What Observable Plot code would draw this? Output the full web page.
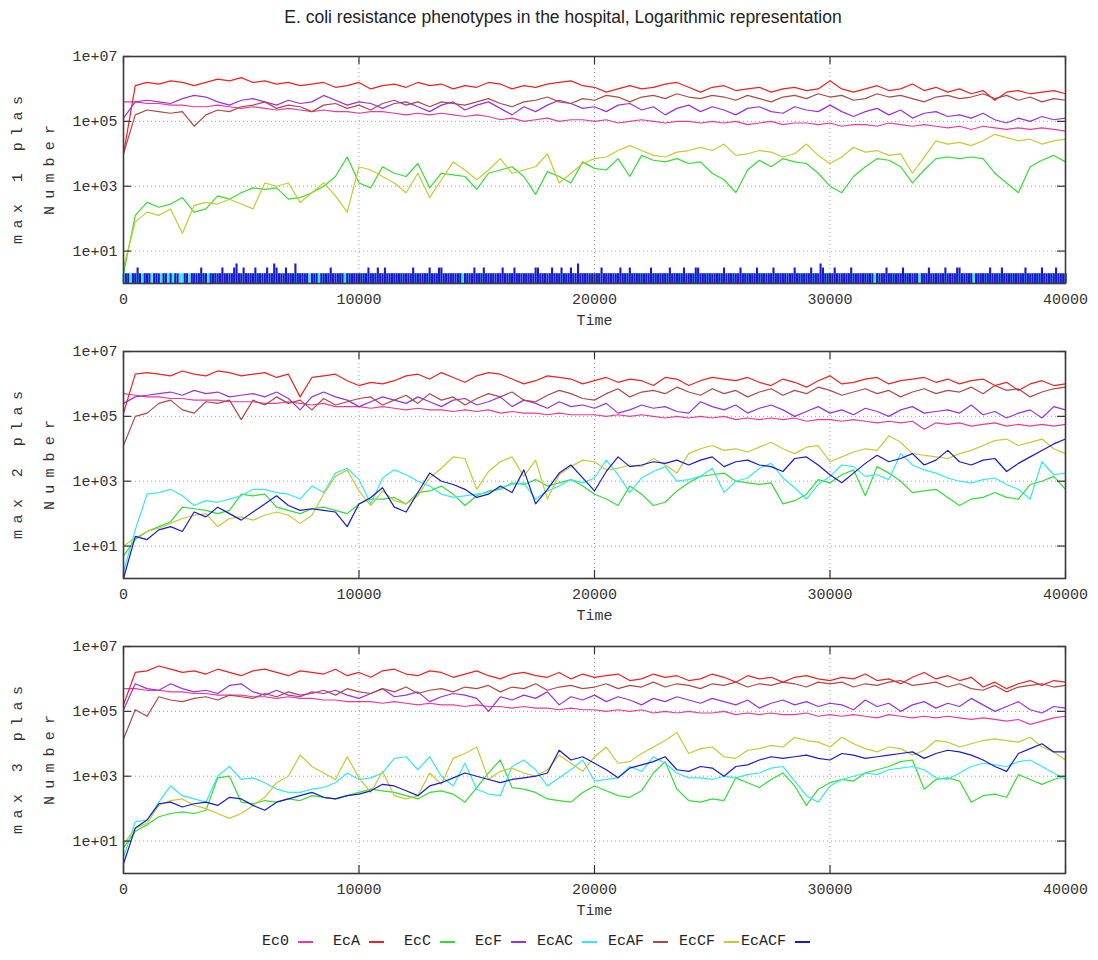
<!DOCTYPE html>
<html><head><meta charset="utf-8">
<script src="https://cdn.jsdelivr.net/npm/d3@7"></script>
<script src="https://cdn.jsdelivr.net/npm/@observablehq/plot@0.6"></script>
<style>
body{margin:0;background:#fff;width:1098px;height:960px;position:relative;overflow:hidden}
#title{position:absolute;top:7px;left:0;width:1126px;text-align:center;font:17.5px "Liberation Sans",Arial,sans-serif;color:#222}
#panels{position:absolute;top:40px;left:0}
#panels svg{display:block}
#legend{position:absolute;top:933px;left:242px;display:flex;font:15px "Liberation Mono",monospace;color:#222;line-height:18px}
.item{width:71px;display:flex;align-items:center}
.item span{display:inline-block;width:47px;text-align:right;margin-right:9px}
.item i{display:inline-block;width:15px;height:2px}
</style></head><body>
<div id="title">E. coli resistance phenotypes in the hospital, Logarithmic representation</div>
<div id="panels"></div>
<div id="legend"></div>
<script>
// ---- categories / labels ----
const seriesNames = ["Ec0","EcA","EcC","EcF","EcAC","EcAF","EcCF","EcACF"];
const seriesColors = ["#f0379b","#f02020","#33dd33","#9b30e0","#33e8f0","#b04848","#c8c832","#1a1acc"];
const panelLabels = ["max 1 plas","max 2 plas","max 3 plas"];
const xTickValues = [0,10000,20000,30000,40000];
const yTickValues = [10,1e3,1e5,1e7];
const yGridValues = [10,1e3,1e5];
const xGridValues = [10000,20000,30000];
const timeStep = 500;   // sampling interval (Time) of the log10(Number) arrays below
const spikeStep = 100;  // sampling interval of the panel-1 count arrays

// ---- panel 1 : max 1 plas (log10 of Number) ----
const p1_Ec0 = [5.6,5.6,5.55,5.55,5.5,5.5,5.45,5.45,5.5,5.45,
5.4,5.45,5.4,5.35,5.4,5.35,5.3,5.35,5.3,5.3,
5.25,5.3,5.3,5.25,5.2,5.25,5.2,5.25,5.2,5.15,
5.2,5.15,5.05,5.1,5.0,5.05,5.1,5.0,5.05,5.05,
5.0,5.05,4.95,5.0,5.05,5.0,4.95,5.0,5.0,4.95,
5.0,4.95,5.0,4.9,4.95,5.0,4.9,4.95,4.95,4.9,
4.95,4.85,4.9,4.9,4.85,4.95,4.9,4.85,4.9,4.85,
4.8,4.85,4.75,4.85,4.8,4.75,4.8,4.75,4.8,4.75,4.7];
const p1_EcA = [4.0,6.1,6.2,6.15,6.25,6.2,6.1,6.2,6.3,6.25,
6.35,6.2,6.25,6.15,6.2,6.1,6.15,6.2,6.05,6.1,
6.2,6.0,6.1,6.15,6.05,6.2,6.1,6.15,6.0,6.1,
6.05,6.2,6.15,6.0,6.1,6.05,6.15,6.2,6.25,6.1,
6.05,5.9,6.0,6.1,6.0,6.05,6.15,6.2,6.05,5.9,
6.05,6.1,5.95,6.0,6.05,5.9,6.0,6.05,5.95,6.0,
6.25,6.0,5.9,6.0,6.1,5.95,6.0,6.15,5.95,6.05,
5.9,6.0,5.85,5.95,5.65,5.9,5.95,5.85,5.9,5.95,5.85];
const p1_EcC = [0.3,2.1,2.5,2.35,2.45,2.65,2.2,2.3,2.7,2.6,
2.8,2.95,2.9,2.95,2.6,2.65,2.8,3.0,3.3,3.9,
3.1,2.95,3.6,3.4,3.3,3.7,2.95,3.4,3.35,3.3,
2.9,3.4,3.5,3.6,3.3,2.75,3.45,3.3,3.1,3.75,
3.55,3.5,3.85,3.3,3.95,3.8,3.75,3.85,3.7,3.75,
3.4,3.2,2.8,3.5,3.8,3.6,3.85,3.75,3.7,3.4,
3.0,2.8,3.3,3.6,3.85,3.8,3.6,3.1,3.5,3.85,
3.9,3.85,3.9,3.85,3.4,3.1,2.8,3.6,3.8,3.95,3.75];
const p1_EcF = [5.1,5.6,5.65,5.6,5.55,5.7,5.8,5.75,5.6,5.5,
5.65,5.7,5.6,5.5,5.65,5.55,5.6,5.8,5.65,5.5,
5.6,5.55,5.4,5.55,5.6,5.45,5.3,5.5,5.6,5.35,
5.5,5.6,5.4,5.2,5.45,5.3,5.5,5.65,5.55,5.4,
5.45,5.3,5.5,5.55,5.35,5.45,5.2,5.4,5.5,5.3,
5.45,5.35,5.2,5.4,5.45,5.3,5.25,5.45,5.35,5.3,
5.5,5.3,5.15,5.3,5.4,5.2,5.35,5.1,5.25,5.3,
5.15,5.2,5.1,5.25,5.05,4.95,5.1,5.0,5.15,5.05,5.1];
const p1_EcAF = [4.0,5.2,5.35,5.3,5.25,5.3,4.85,5.2,5.35,5.3,
5.45,5.5,5.6,5.4,5.5,5.45,5.3,5.5,5.55,5.4,
5.5,5.35,5.55,5.65,5.5,5.6,5.45,5.6,5.55,5.5,
5.6,5.7,5.55,5.45,5.6,5.65,5.75,5.6,5.55,5.7,
5.65,5.8,5.75,5.6,5.75,5.8,5.7,5.85,5.75,5.7,
5.8,5.75,5.65,5.8,5.7,5.6,5.75,5.8,5.7,5.85,
5.75,5.8,5.65,5.7,5.85,5.75,5.8,5.7,5.6,5.75,
5.8,5.7,5.75,5.85,5.7,5.8,5.65,5.75,5.6,5.7,5.65];
const p1_EcCF = [0.5,1.9,2.2,2.1,2.3,1.55,2.4,2.5,2.45,2.6,
2.45,2.3,3.1,3.0,3.1,2.5,2.8,3.1,2.7,2.2,
3.6,3.5,3.3,3.1,2.8,3.4,2.65,3.2,3.75,3.5,
3.2,3.5,3.85,3.4,3.5,3.6,4.0,3.1,3.4,3.7,
3.85,3.9,4.1,4.25,4.1,3.95,3.9,4.05,4.1,4.2,
4.1,4.3,3.95,4.0,4.1,4.05,3.9,4.0,4.3,3.95,
3.7,3.9,4.2,4.05,4.1,3.95,4.0,3.4,3.9,4.4,
4.3,4.35,4.25,4.4,4.6,4.5,4.4,4.45,4.3,4.4,4.45];
// EcAC and EcACF in panel 1: counts (1..4) every spikeStep
const p1_EcAC_counts = [
2,2,1,2,2,2,2,1,2,2,1,2,2,2,2,1,2,2,1,2,
2,2,2,1,2,2,2,1,2,2,2,1,2,2,2,2,2,2,1,2,
1,2,2,2,2,1,2,2,2,2,1,2,2,2,2,1,2,2,2,1,
2,2,1,2,2,2,2,1,2,2,2,2,1,2,2,2,2,1,2,2,
2,1,2,2,2,2,1,2,2,2,1,2,2,2,2,2,2,1,2,2,
1,2,2,2,2,2,2,2,1,2,2,2,1,2,2,2,2,2,2,1,
2,2,1,2,2,2,1,2,2,2,2,1,2,2,2,2,1,2,2,2,
2,1,2,2,2,2,2,1,2,2,2,2,2,1,2,2,2,2,1,2,
2,2,2,1,2,2,2,2,2,1,2,2,2,2,1,2,2,2,2,2,
1,2,2,2,2,1,2,2,2,2,2,2,1,2,2,2,2,2,1,2,
2,2,2,1,2,2,2,2,1,2,2,2,2,2,2,1,2,2,2,2,
2,1,2,2,2,2,2,1,2,2,2,2,1,2,2,2,2,2,2,1,
2,2,2,2,1,2,2,2,2,2,1,2,2,2,2,2,1,2,2,2,
1,2,2,2,2,2,1,2,2,2,2,2,2,1,2,2,2,2,2,2,
2,2,1,2,2,2,2,2,2,1,2,2,2,2,2,1,2,2,2,2,
2,2,2,2,1,2,2,2,2,2,2,1,2,2,2,2,2,2,1,2,
2,1,2,2,2,2,2,2,1,2,2,2,2,2,2,1,2,2,2,2,
2,2,2,1,2,2,2,2,2,2,1,2,2,2,2,2,2,1,2,2,
2,2,1,2,2,2,2,2,2,2,1,2,2,2,2,2,1,2,2,2,
2,2,2,2,2,1,2,2,2,2,2,2,1,2,2,2,2,2,2,1,
2];
const p1_EcACF_counts = [
1,2,2,1,2,2,3,2,1,2,2,2,1,2,2,2,1,2,2,1,
2,1,2,2,1,1,2,2,1,2,2,2,2,3,2,2,1,2,2,2,
2,2,3,2,2,2,2,3,4,2,2,3,2,2,2,2,3,2,2,2,
2,3,2,2,4,3,2,2,2,3,2,2,2,4,2,2,2,2,2,1,
2,2,2,1,2,2,2,2,3,2,2,2,2,2,1,2,2,2,2,2,
2,2,2,2,3,2,2,2,3,2,2,3,2,2,2,2,2,2,2,2,
2,2,2,3,2,2,2,2,2,2,3,2,2,2,3,3,2,2,2,2,
2,2,2,2,1,2,2,2,2,3,2,2,2,3,2,2,2,2,2,2,
2,3,2,2,2,2,3,2,2,2,2,2,2,2,2,3,3,2,2,2,
2,2,3,2,2,2,3,2,2,2,3,2,2,4,2,2,2,2,2,2,
2,2,2,3,2,2,2,2,2,2,2,3,2,2,2,3,2,2,2,2,
2,2,2,2,3,2,2,2,2,2,2,2,3,2,2,2,2,2,3,2,
2,2,2,3,3,2,2,2,2,2,2,2,2,2,2,3,2,2,2,2,
2,2,3,2,2,2,2,2,2,3,2,2,2,2,2,2,3,2,2,2,
2,2,2,2,2,3,2,2,2,2,2,2,3,2,2,2,4,3,2,2,
2,2,3,2,2,2,2,2,2,3,2,2,2,2,2,2,2,2,2,1,
2,2,2,2,3,2,2,2,2,2,2,3,2,2,2,2,2,2,1,2,
2,2,3,2,2,2,2,2,2,3,2,2,2,2,3,3,2,2,2,2,
2,1,2,2,2,2,2,2,3,2,2,2,2,3,2,2,2,2,2,2,
2,2,2,3,2,2,2,2,2,2,3,2,2,2,2,2,3,2,2,2,
2];

// ---- panel 2 : max 2 plas ----
const p2_Ec0 = [5.7,5.65,5.6,5.6,5.55,5.55,5.5,5.5,5.5,5.45,
5.45,5.45,5.4,5.4,5.45,5.4,5.35,5.4,5.3,5.3,
5.3,5.25,5.3,5.25,5.2,5.25,5.2,5.2,5.15,5.2,
5.15,5.2,5.1,5.15,5.1,5.1,5.05,5.1,5.05,5.05,
5.05,5.0,5.05,5.0,5.05,5.0,4.95,5.0,4.95,5.0,
4.95,5.0,4.9,4.95,4.9,4.95,4.9,4.95,4.85,4.9,
4.9,4.85,4.9,4.85,4.8,4.85,4.8,4.85,4.6,4.8,
4.75,4.8,4.7,4.75,4.8,4.7,4.75,4.7,4.75,4.7,4.75];
const p2_EcA = [5.1,6.3,6.35,6.3,6.25,6.4,6.3,6.25,6.4,6.35,
6.25,6.3,6.35,6.2,6.3,5.6,6.2,6.25,6.3,6.1,
5.95,6.05,6.0,6.1,6.25,6.3,6.15,6.35,6.2,6.05,
6.25,6.35,6.3,6.15,6.0,6.1,6.25,6.2,6.15,6.0,
6.1,6.2,6.05,6.15,6.1,5.95,6.2,6.15,5.95,6.1,
6.2,6.15,6.1,6.2,6.05,5.95,6.15,6.05,5.9,6.1,
6.25,6.0,6.05,6.15,6.2,6.0,6.1,6.15,6.2,6.05,
6.15,6.0,6.1,6.15,5.95,6.05,5.8,6.0,6.1,5.95,6.0];
const p2_EcC = [0.7,1.2,1.45,1.6,1.75,2.2,2.15,2.1,2.0,2.1,
2.6,2.55,2.6,2.2,2.1,2.0,2.15,2.2,2.1,2.0,
2.3,2.45,2.45,2.5,2.3,2.65,2.7,2.85,2.6,2.25,
2.55,2.7,2.75,2.95,2.9,3.05,2.85,2.95,3.05,2.85,
2.6,2.45,2.25,2.85,2.6,2.25,2.35,2.7,2.95,3.15,
3.2,3.25,3.0,2.95,2.9,2.95,2.3,2.4,2.6,3.05,
2.95,3.2,3.35,2.55,3.45,3.25,3.0,2.65,2.7,2.75,
2.5,2.25,2.45,2.5,2.65,2.5,2.45,2.9,3.0,3.15,2.75];
const p2_EcF = [5.4,5.6,5.65,5.7,5.75,5.65,5.8,5.7,5.75,5.6,
5.65,5.7,5.6,5.75,5.55,5.2,5.6,5.75,5.6,5.5,
5.3,5.45,5.6,5.5,5.4,5.6,5.45,5.3,5.5,5.55,
5.35,5.45,5.6,5.3,5.5,5.4,5.25,5.45,5.3,5.35,
5.25,5.4,5.1,5.2,5.35,5.25,5.3,5.15,5.1,5.45,
5.3,5.2,5.35,5.1,5.25,5.35,5.2,5.0,5.15,5.3,
5.1,5.2,5.05,5.25,5.15,5.0,5.2,5.3,5.1,5.15,
5.2,5.1,5.35,5.05,5.15,4.95,5.1,5.2,4.95,5.3,5.2];
const p2_EcAC = [0.2,1.5,2.6,2.65,2.75,2.55,2.25,2.4,2.35,2.45,
2.55,2.75,2.75,2.65,2.6,2.45,2.85,2.65,3.25,3.4,
3.05,2.3,3.1,3.35,3.2,3.0,2.85,2.6,2.5,2.55,
2.6,2.65,2.8,2.9,2.95,2.45,2.7,2.85,3.05,2.95,
3.1,3.65,3.2,2.65,3.1,3.3,3.45,3.0,3.05,3.15,
3.4,2.65,3.0,3.1,3.4,3.55,3.1,2.8,2.45,2.9,
3.15,3.5,3.45,3.15,3.2,3.05,3.85,3.5,3.35,3.25,
3.1,3.0,2.95,3.05,3.1,2.9,2.75,2.45,3.6,3.2,3.25];
const p2_EcAF = [4.1,5.0,5.1,5.4,5.5,5.2,5.1,5.45,5.4,5.5,
4.9,5.5,5.35,5.6,5.4,5.5,5.2,5.55,5.35,5.45,
5.55,5.6,5.35,5.5,5.65,5.4,5.7,5.5,5.6,5.35,
5.55,5.7,5.6,5.75,5.5,5.45,5.65,5.8,5.7,5.55,
5.5,5.7,5.85,5.6,5.75,5.8,5.7,5.9,5.75,5.65,
5.85,5.7,5.8,5.6,5.75,5.85,5.65,5.8,5.7,5.9,
5.8,5.65,5.75,5.85,5.7,5.8,5.6,5.75,5.85,5.7,
5.8,5.75,5.9,5.7,5.95,5.8,5.85,5.6,5.75,5.85,5.9];
const p2_EcCF = [1.0,1.25,1.45,1.55,1.7,1.85,1.95,2.0,1.6,1.85,
1.9,1.8,1.95,2.05,1.95,1.7,1.95,2.6,3.15,3.35,
2.7,2.25,2.7,2.4,2.3,2.55,3.1,3.4,3.75,3.7,
2.75,3.3,3.6,3.75,3.15,3.65,2.45,3.2,3.45,3.65,
3.6,3.35,3.4,3.5,3.45,3.7,3.5,3.25,3.85,4.0,
4.1,3.95,4.0,3.9,4.05,4.2,4.0,3.85,4.05,4.1,
3.6,3.75,3.9,4.0,3.95,4.4,4.2,3.85,3.8,3.75,
3.7,3.85,3.95,4.1,4.25,4.3,4.1,4.2,4.3,4.0,3.85];
const p2_EcACF = [0.0,1.3,1.2,1.5,1.6,1.45,2.05,1.9,2.2,2.0,
1.8,2.05,2.3,2.55,2.25,2.1,2.15,2.1,2.05,1.6,
2.3,2.5,2.8,2.2,2.05,2.65,3.25,3.0,2.9,2.75,
2.5,2.6,2.85,2.65,3.35,2.3,2.75,3.25,3.5,3.1,
2.7,3.3,3.75,3.45,3.5,3.6,3.55,3.65,3.5,3.65,
3.75,3.45,3.6,3.65,3.5,3.45,3.3,3.7,3.75,3.5,
3.2,2.95,3.25,3.55,3.8,3.6,3.7,3.85,3.5,3.65,
3.95,3.6,3.5,3.65,3.7,3.3,3.55,3.75,3.95,4.15,4.3];

// ---- panel 3 : max 3 plas ----
const p3_Ec0 = [5.7,5.7,5.65,5.65,5.6,5.6,5.55,5.55,5.5,5.5,
5.5,5.45,5.45,5.4,5.45,5.4,5.4,5.35,5.35,5.3,
5.3,5.3,5.25,5.3,5.25,5.2,5.25,5.2,5.2,5.15,
5.2,5.15,5.15,5.1,5.15,5.1,5.1,5.05,5.1,5.05,
5.05,5.0,5.05,5.0,5.05,4.95,5.0,4.95,5.0,4.95,
4.95,5.0,4.9,4.95,4.9,4.95,4.9,4.9,4.95,4.85,
4.9,4.85,4.9,4.85,4.8,4.9,4.85,4.8,4.85,4.8,
4.85,4.8,4.75,4.8,4.75,4.7,4.75,4.6,4.7,4.8,4.85];
const p3_EcA = [5.2,6.2,6.25,6.4,6.3,6.2,6.25,6.15,6.3,6.2,
6.1,6.25,6.3,6.2,6.1,6.25,6.2,6.15,6.3,6.1,
6.2,6.05,6.25,6.3,6.15,6.1,6.25,6.2,6.05,6.15,
6.25,6.1,6.0,6.15,6.2,6.1,6.05,6.2,6.0,6.15,
6.05,6.1,6.15,5.95,6.0,6.15,6.05,6.1,5.95,6.0,
6.15,6.05,5.9,6.1,6.0,6.05,5.9,6.05,6.1,6.0,
5.95,6.05,6.0,6.15,5.95,6.0,5.85,6.05,6.2,6.0,
6.1,5.95,6.05,5.75,5.9,5.7,5.85,5.95,5.8,5.95,5.9];
const p3_EcC = [0.8,1.3,1.5,1.75,1.85,1.9,1.85,1.95,2.95,3.0,
2.2,2.15,2.25,2.2,2.3,2.25,2.4,2.35,2.3,2.4,
2.5,2.6,2.55,2.5,2.4,2.3,2.5,2.55,2.45,2.2,
2.65,3.1,3.5,2.65,2.6,2.5,2.3,2.25,2.2,2.5,
2.7,2.55,2.4,2.35,2.55,3.1,3.45,2.6,2.25,2.2,
2.3,2.25,2.95,2.8,2.65,2.9,3.1,2.7,2.1,2.6,
2.8,2.9,2.85,3.1,3.2,3.3,3.45,3.5,2.6,2.9,
2.95,2.85,2.2,2.4,2.45,2.35,3.05,2.9,2.75,2.9,3.0];
const p3_EcF = [5.05,5.85,5.7,5.65,5.85,5.7,5.6,5.65,5.55,5.8,
5.85,5.6,5.5,5.65,5.5,5.45,5.6,5.55,5.65,5.5,
5.4,5.55,5.7,5.45,5.5,5.6,5.3,5.45,5.55,5.5,
5.4,5.0,5.45,5.35,5.5,5.4,5.6,5.2,5.45,5.35,
5.5,5.3,5.45,5.35,5.2,5.4,5.3,5.45,5.35,5.25,
5.4,5.3,5.2,5.35,5.1,5.25,5.35,5.2,5.3,5.15,
5.25,5.2,5.05,5.35,5.15,5.25,5.0,5.2,5.3,5.1,
5.25,5.15,5.4,5.2,5.0,5.15,5.3,5.05,4.95,5.15,5.1];
const p3_EcAC = [0.5,1.6,1.65,2.2,2.7,2.4,2.3,2.2,3.0,3.3,
2.9,2.95,2.8,2.6,2.5,2.5,2.6,2.65,2.8,3.1,
2.9,2.95,3.1,3.55,3.6,3.2,3.6,3.0,2.7,3.4,
2.6,2.45,2.4,3.3,3.5,3.2,2.7,2.95,3.2,3.5,
2.85,2.9,2.95,3.3,3.15,3.6,3.4,3.1,2.95,2.95,
2.9,3.0,2.95,3.05,3.1,3.25,3.3,2.85,2.4,2.2,
2.7,2.9,3.0,3.1,3.05,3.2,3.25,3.3,3.2,2.95,
2.9,3.1,3.3,3.4,3.35,3.3,3.45,3.5,3.3,3.1,2.9];
const p3_EcAF = [4.15,5.05,4.85,5.45,5.35,5.3,5.4,5.45,5.35,5.5,
5.45,5.4,5.55,5.45,5.6,5.5,5.55,5.65,5.5,5.7,
5.6,5.55,5.7,5.6,5.75,5.55,5.65,5.7,5.6,5.75,
5.7,5.8,5.6,5.75,5.7,5.85,5.65,5.75,5.8,5.7,
5.75,5.85,5.7,5.8,5.75,5.9,5.75,5.85,5.8,5.7,
5.85,5.8,5.9,5.75,5.85,5.8,5.9,5.85,5.75,5.9,
5.85,5.9,5.75,5.85,5.8,5.9,5.95,5.8,5.85,5.9,
5.75,5.85,5.7,5.65,5.8,5.6,5.75,5.8,5.85,5.75,5.8];
const p3_EcCF = [0.9,1.4,1.55,2.1,2.25,2.3,2.1,2.0,1.85,1.7,
1.85,2.1,2.35,2.8,3.0,3.65,3.3,3.1,2.9,3.6,
2.95,2.5,3.15,2.4,2.3,2.4,3.1,2.75,3.55,3.7,
3.9,2.9,3.15,3.25,3.1,3.0,3.2,3.65,3.4,3.15,
3.6,3.9,3.4,3.45,3.7,3.9,4.1,4.35,3.7,3.85,
3.9,3.6,3.55,3.8,3.85,3.95,3.9,4.2,4.1,4.05,
3.9,4.2,4.0,3.85,3.75,3.9,3.85,3.65,3.8,4.1,
4.05,3.9,4.0,4.1,4.15,4.1,4.05,4.2,3.9,3.75,3.5];
const p3_EcACF = [0.3,1.4,1.65,2.15,2.2,2.05,2.15,2.2,2.1,2.35,
2.3,2.1,1.95,2.2,2.3,2.4,2.5,2.35,2.3,2.4,
2.45,2.55,2.75,2.7,2.55,2.4,2.7,2.8,2.95,3.1,
3.0,2.9,2.8,2.9,2.95,3.0,3.1,3.8,3.5,3.6,
3.4,3.2,2.95,3.25,3.35,3.45,3.6,3.2,3.15,3.3,
3.25,3.0,3.3,3.35,3.5,3.6,3.55,3.6,3.65,3.55,
3.5,3.7,3.65,3.55,3.6,3.65,3.7,3.75,3.55,3.7,
3.8,3.75,3.65,3.5,3.3,3.15,3.7,3.85,4.0,3.75,3.75];

const panelLines = [
  {Ec0:p1_Ec0, EcA:p1_EcA, EcC:p1_EcC, EcF:p1_EcF, EcAF:p1_EcAF, EcCF:p1_EcCF},
  {Ec0:p2_Ec0, EcA:p2_EcA, EcC:p2_EcC, EcF:p2_EcF, EcAC:p2_EcAC, EcAF:p2_EcAF, EcCF:p2_EcCF, EcACF:p2_EcACF},
  {Ec0:p3_Ec0, EcA:p3_EcA, EcC:p3_EcC, EcF:p3_EcF, EcAC:p3_EcAC, EcAF:p3_EcAF, EcCF:p3_EcCF, EcACF:p3_EcACF}
];
const panelSpikes = [{EcAC:p1_EcAC_counts, EcACF:p1_EcACF_counts}, {}, {}];

const fontMono = "'Liberation Mono', 'DejaVu Sans Mono', monospace";
const frameW = 942, frameH = 227, tickLen = 8;

function lineRows(logs){ return logs.map((v,i)=>({t:i*timeStep, n:Math.pow(10, v)})); }
function spikeRows(counts){ return counts.map((c,i)=>({t:i*spikeStep, n:c})); }

function makePanel(k){
  const marks = [
    Plot.ruleY(yGridValues, {stroke:"#a0a0a0", strokeWidth:1, strokeDasharray:"1,3"}),
    Plot.ruleX(xGridValues, {stroke:"#a0a0a0", strokeWidth:1, strokeDasharray:"1,3"})
  ];
  seriesNames.forEach((name, j) => {
    const lines = panelLines[k][name];
    const spikes = panelSpikes[k][name];
    if (lines) marks.push(Plot.line(lineRows(lines), {x:"t", y:"n", stroke:seriesColors[j], strokeWidth:1.2}));
    if (spikes) marks.push(Plot.ruleX(spikeRows(spikes), {x:"t", y1:1, y2:"n", stroke:seriesColors[j], strokeWidth:2.1}));
  });
  marks.push(
    Plot.ruleX(xTickValues, {stroke:"#333", strokeWidth:1.2, insetBottom: frameH - tickLen}),
    Plot.ruleX(xTickValues, {stroke:"#333", strokeWidth:1.2, insetTop: frameH - tickLen}),
    Plot.ruleY(yTickValues, {stroke:"#333", strokeWidth:1.2, insetRight: frameW - tickLen}),
    Plot.ruleY(yTickValues, {stroke:"#333", strokeWidth:1.2, insetLeft: frameW - tickLen}),
    Plot.frame({stroke:"#3a3a3a", strokeWidth:1.6}),
    Plot.axisX({ticks:xTickValues, tickSize:0, tickPadding:10, tickFormat:d=>String(d), label:null}),
    Plot.axisY({ticks:yTickValues, tickSize:0, tickPadding:6, tickFormat:d=>"1e+" + String(Math.round(Math.log10(d))).padStart(2,"0"), label:null}),
    Plot.text(["Time"], {text:d=>d, frameAnchor:"bottom", dy:41, fill:"#333", textAnchor:"middle"}),
    Plot.text(["Number"], {text:d=>d, frameAnchor:"left", dx:-74, rotate:-90, fill:"#333", textAnchor:"middle"}),
    Plot.text([panelLabels[k]], {text:d=>d, frameAnchor:"left", dx:-106, rotate:-90, fill:"#333", textAnchor:"middle"})
  );
  const svg = Plot.plot({
    width:1098, height:295,
    marginLeft:123, marginRight:33, marginTop:16, marginBottom:52,
    x:{domain:[0,40000]},
    y:{type:"log", domain:[1,1e7]},
    style:{fontFamily:fontMono, fontSize:"15px", color:"#333", background:"transparent", overflow:"visible"},
    marks
  });
  d3.select(svg).selectAll("text").filter(function(){
    return this.textContent === "Number";
  }).attr("text-anchor", "middle").attr("textLength", 90).attr("lengthAdjust", "spacing");
  d3.select(svg).selectAll("text").filter(function(){
    return panelLabels.includes(this.textContent);
  }).attr("text-anchor", "middle").attr("textLength", 148).attr("lengthAdjust", "spacing");
  return svg;
}

const host = document.getElementById("panels");
for (let k = 0; k < 3; k++) host.appendChild(makePanel(k));

const legend = document.getElementById("legend");
seriesNames.forEach((name, j) => {
  const item = document.createElement("div");
  item.className = "item";
  const s = document.createElement("span"); s.textContent = name;
  const l = document.createElement("i"); l.style.background = seriesColors[j];
  item.appendChild(s); item.appendChild(l);
  legend.appendChild(item);
});
</script>
</body></html>
